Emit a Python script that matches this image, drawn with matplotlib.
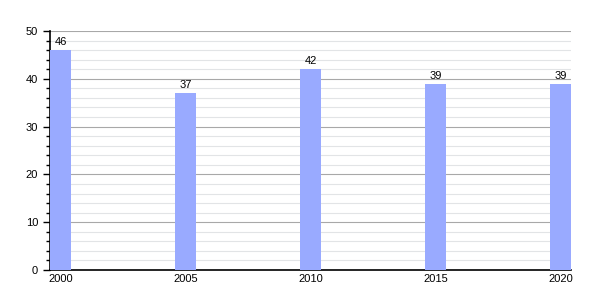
import matplotlib as mpl
import matplotlib.pyplot as plt
from matplotlib.ticker import MultipleLocator

mpl.rcParams['font.family'] = ['Liberation Sans', 'DejaVu Sans']
mpl.rcParams['font.size'] = 8

years = [2000, 2005, 2010, 2015, 2020]
values = [46, 37, 42, 39, 39]

fig = plt.figure(figsize=(6, 3), dpi=100)
ax = fig.add_axes([50 / 600, 0.1, 521 / 600, 239 / 300])

barWidth = 0.84
ax.bar(years, values, width=barWidth, color='#99aaff', zorder=3)
for x, v in zip(years, values):
    ax.text(x, v + 0.6, str(v), ha='center', va='bottom', fontsize=8, zorder=4)

ax.set_xlim(2000 - barWidth / 2, 2020 + barWidth / 2)
ax.set_ylim(0, 50)
ax.set_xticks(years)
ax.yaxis.set_major_locator(MultipleLocator(10))
ax.yaxis.set_minor_locator(MultipleLocator(2))
ax.grid(which='major', axis='y', color='#a8a8a8', linewidth=0.8, zorder=1)
ax.grid(which='minor', axis='y', color='#e2e4e6', linewidth=0.8, zorder=1)

for s in ['top', 'right']:
    ax.spines[s].set_visible(False)
ax.spines['left'].set_linewidth(1.2)
ax.spines['bottom'].set_linewidth(1.2)
ax.tick_params(axis='x', length=0, pad=3)
ax.tick_params(axis='y', which='major', length=5, width=1)
ax.tick_params(axis='y', which='minor', length=3, width=1)

fig.savefig('out.png', dpi=100)
